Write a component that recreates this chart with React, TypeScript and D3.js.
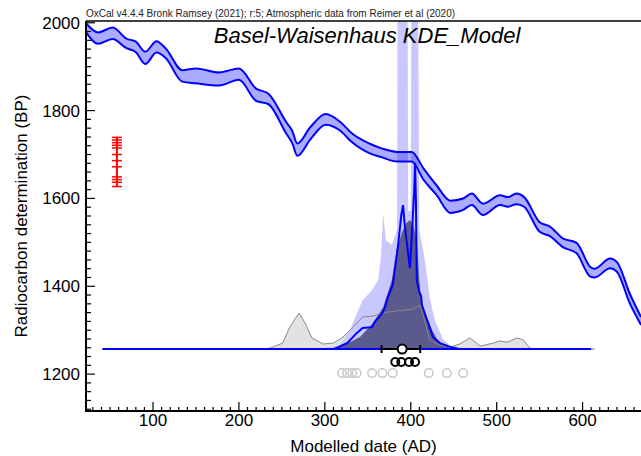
import React from "react";
import * as d3 from "d3";

// IntCal20 band: year AD, BP, 1 sigma
const calYear = [22, 36, 53, 69, 80, 91, 104, 115, 134, 150, 177, 200, 220, 234, 255, 262, 268, 283, 301, 318, 331, 353, 366, 384, 401, 415, 430, 446, 461, 471, 484, 504, 513, 523, 532, 550, 562, 577, 593, 609, 614, 632, 640, 655, 668];
const calBP = [1989, 1965, 1976, 1953, 1945, 1920, 1945, 1930, 1879, 1879, 1872, 1883, 1836, 1827, 1761, 1740, 1711, 1748, 1780, 1764, 1739, 1713, 1704, 1695, 1695, 1655, 1619, 1581, 1587, 1598, 1575, 1596, 1592, 1599, 1592, 1535, 1525, 1499, 1487, 1433, 1430, 1452, 1444, 1372, 1321];
const calErr = [10, 13, 13, 11, 12, 14, 13, 11, 13, 17, 15, 13, 14, 12, 13, 14, 14, 14, 12, 10, 10, 11, 10, 11, 11, 13, 11, 14, 13, 13, 13, 11, 11, 12, 11, 11, 11, 10, 12, 11, 10, 11, 11, 11, 9];

// radiocarbon determinations (BP), red crosses
const c14Dates = [1739, 1733, 1727, 1721, 1715, 1700, 1686, 1672, 1649, 1643, 1637, 1627];

// distributions: [year AD, relative probability]
const unmodelledSum: [number, number][] = [[227, 0], [236, 0.003], [251, 0.02], [259, 0.073], [270, 0.12], [277, 0.087], [285, 0.037], [298, 0.017], [310, 0.02], [321, 0.04], [333, 0.073], [344, 0.107], [356, 0.11], [372, 0.123], [384, 0.127], [403, 0.133], [411, 0.147], [416, 0.097], [422, 0.03], [434, 0.013], [446, 0.007], [457, 0.017], [469, 0.037], [481, 0.01], [496, 0.02], [504, 0.027], [512, 0.023], [524, 0.037], [531, 0.03], [539, 0.003], [550, 0]];
const kdeEnvelope: [number, number][] = [[292, 0], [306, 0.007], [318, 0.013], [329, 0.063], [339, 0.13], [344, 0.163], [355, 0.197], [362, 0.23], [365, 0.297], [368, 0.453], [371, 0.363], [378, 0.347], [384, 0.397], [385, 1.5], [396, 1.5], [397, 0.46], [400, 0.46], [401, 1.5], [408, 1.5], [410, 0.397], [417, 0.287], [422, 0.173], [428, 0.097], [438, 0.03], [448, 0.007], [457, 0]];
const posterior: [number, number][] = [[306, 0], [318, 0.01], [329, 0.023], [341, 0.04], [356, 0.087], [368, 0.14], [378, 0.23], [384, 0.34], [390, 0.39], [394, 0.417], [399, 0.43], [403, 0.413], [407, 0.363], [410, 0.23], [412, 0.163], [415, 0.13], [420, 0.097], [425, 0.063], [431, 0.03], [438, 0.013], [446, 0.003], [455, 0]];
const kdeModel: [number, number][] = [[294, 0], [310, 0], [326, 0.02], [337, 0.053], [344, 0.07], [355, 0.073], [358, 0.09], [367, 0.12], [370, 0.14], [373, 0.17], [379, 0.213], [385, 0.34], [389, 0.447], [391, 0.48], [393, 0.413], [396, 0.34], [399, 0.27], [401, 0.363], [404, 0.53], [405, 0.62], [406, 0.497], [407, 0.23], [410, 0.19], [412, 0.177], [413, 0.147], [419, 0.097], [426, 0.04], [434, 0.02], [446, 0.007], [457, 0]];

const modelRange = [41, 610];
const modelMean = 390;
const modelSigma = [366, 411];
const sampleMedians = [382, 389, 398, 405];
const unmodelledMedians = [320, 326, 332, 337, 355, 367, 379, 421, 442, 461];
const crossYear = 58;

const xTicks = [100, 200, 300, 400, 500, 600];
const yTicks = [1200, 1400, 1600, 1800, 2000];

const W = 641, H = 456;
const L = 86, R = 641, T = 21, B = 411;
const font = "'Liberation Sans', Arial, sans-serif";

const App = () => {
  const x = d3.scaleLinear().domain([22, 668]).range([L, R]);
  const y = d3.scaleLinear().domain([1116, 2004]).range([B, T]);
  const base = y(1257);
  const p = d3.scaleLinear().domain([0, 1]).range([base, base - 300]);

  const distArea = d3.area<[number, number]>().x(d => x(d[0])).y0(base).y1(d => p(d[1]));
  const distLine = d3.line<[number, number]>().x(d => x(d[0])).y(d => p(d[1]));

  const idx = d3.range(calYear.length);
  const band = d3.area<number>()
    .x(i => x(calYear[i]))
    .y0(i => y(calBP[i] - calErr[i]))
    .y1(i => y(calBP[i] + calErr[i]))
    .curve(d3.curveMonotoneX);
  const upper = d3.line<number>().x(i => x(calYear[i])).y(i => y(calBP[i] + calErr[i])).curve(d3.curveMonotoneX);
  const lower = d3.line<number>().x(i => x(calYear[i])).y(i => y(calBP[i] - calErr[i])).curve(d3.curveMonotoneX);

  const minorX = d3.range(30, 661, 10);
  const minorY = d3.range(1120, 2001, 20);

  return (
    <svg width={W} height={H} style={{ position: "absolute", left: 0, top: 0, background: "#fff" }} fontFamily={font}>
      <defs>
        <clipPath id="plot">
          <rect x={L} y={T} width={R - L} height={B - T} />
        </clipPath>
      </defs>

      <g clipPath="url(#plot)">
        <path d={distArea(unmodelledSum)!} fill="#e2e2e2" />
        <path d={distArea(kdeEnvelope)!} fill="#c8c8ff" />
        <path d={distArea(posterior)!} fill="#5a5a8c" />
        <path d={distLine(unmodelledSum)!} fill="none" stroke="#888" strokeWidth={1} />
        <line x1={x(modelRange[1])} x2={x(614)} y1={base} y2={base} stroke="#bbb" strokeWidth={2} />
        <line x1={x(modelRange[0])} x2={x(modelRange[1])} y1={base} y2={base} stroke="#0000ff" strokeWidth={2} />
        <path d={distLine(kdeModel)!} fill="none" stroke="#0000ff" strokeWidth={2} />

        <path d={band(idx)!} fill="#0000ff" fillOpacity={0.33} />
        <path d={upper(idx)!} fill="none" stroke="#0000ff" strokeWidth={2} />
        <path d={lower(idx)!} fill="none" stroke="#0000ff" strokeWidth={2} />

        {/* mean +- sigma */}
        <line x1={x(modelSigma[0])} x2={x(modelSigma[1])} y1={base} y2={base} stroke="#000" strokeWidth={2} />
        {modelSigma.map((d, i) => (
          <line key={i} x1={x(d)} x2={x(d)} y1={base - 4} y2={base + 4} stroke="#000" strokeWidth={2} />
        ))}
        <circle cx={x(modelMean)} cy={base} r={4.5} fill="#fff" stroke="#000" strokeWidth={2} />
        {sampleMedians.map((d, i) => (
          <circle key={i} cx={x(d)} cy={base + 13} r={4} fill="none" stroke="#000" strokeWidth={2} />
        ))}
        {unmodelledMedians.map((d, i) => (
          <circle key={i} cx={x(d)} cy={base + 24} r={4.3} fill="none" stroke="#c8c8c8" strokeWidth={1.5} />
        ))}

        {/* radiocarbon dates */}
        <line x1={x(crossYear)} x2={x(crossYear)} y1={y(d3.max(c14Dates)!)} y2={y(d3.min(c14Dates)!)} stroke="#ff0000" strokeWidth={2} />
        {c14Dates.map((d, i) => (
          <line key={i} x1={x(crossYear) - 5} x2={x(crossYear) + 5} y1={y(d)} y2={y(d)} stroke="#ff0000" strokeWidth={1.5} />
        ))}
      </g>

      {/* frame and axes */}
      <line x1={L} x2={R} y1={T} y2={T} stroke="#000" strokeWidth={1.5} />
      <line x1={L} x2={L} y1={T} y2={B + 1} stroke="#000" strokeWidth={2} />
      <line x1={L - 1} x2={R} y1={B} y2={B} stroke="#000" strokeWidth={2} />
      {minorX.map(d => (
        <line key={d} x1={x(d)} x2={x(d)} y1={B} y2={B - (d % 100 === 0 ? 9 : 4)} stroke="#000" strokeWidth={1.2} />
      ))}
      {minorY.map(d => (
        <line key={d} x1={L} x2={L + (d % 200 === 0 ? 9 : 5)} y1={y(d)} y2={y(d)} stroke="#000" strokeWidth={1.2} />
      ))}
      {xTicks.map(d => (
        <text key={d} x={x(d)} y={B + 15} fontSize={17} textAnchor="middle">{d}</text>
      ))}
      {yTicks.map(d => (
        <text key={d} x={L - 6} y={y(d)} dy="0.35em" fontSize={17} textAnchor="end">{d}</text>
      ))}

      <text x={L} y={17} fontSize={10} fill="#222">OxCal v4.4.4 Bronk Ramsey (2021); r:5; Atmospheric data from Reimer et al (2020)</text>
      <text x={367} y={43} fontSize={22} fontStyle="italic" textAnchor="middle">Basel-Waisenhaus KDE_Model</text>
      <text x={(L + R) / 2} y={452} fontSize={17} textAnchor="middle">Modelled date (AD)</text>
      <text transform={`translate(27,${(T + B) / 2}) rotate(-90)`} fontSize={17} textAnchor="middle">Radiocarbon determination (BP)</text>
    </svg>
  );
};

export default App;
